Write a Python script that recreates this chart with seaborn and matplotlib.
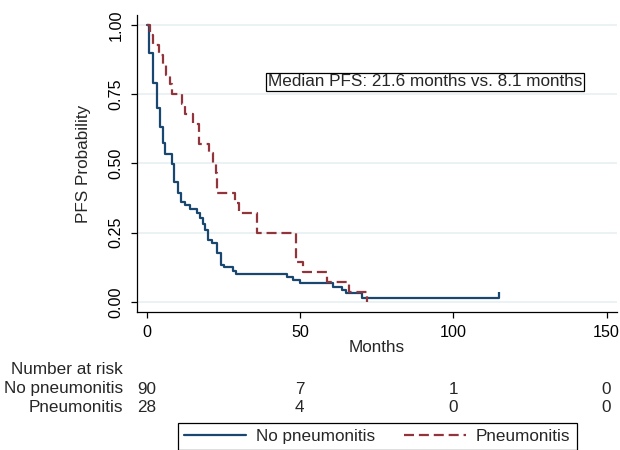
import matplotlib
matplotlib.use("Agg")
import matplotlib.pyplot as plt
import matplotlib.transforms as mtransforms
import pandas as pd
import seaborn as sns

# data (Kaplan-Meier steps: time in months, survival)
no_pn_t = [0, 0.9, 2.2, 3.3, 4.3, 5.4, 6.1, 8.2, 9.0, 10.3, 11.2, 12.5, 14.1, 16.3,
           17.4, 18.3, 19.0, 20.1, 21.5, 23.1, 24.2, 25.2, 28.1, 29.2, 45.9, 47.8,
           50.0, 60.9, 63.9, 65.0, 70.1, 115.0]
no_pn_s = [1.0, 0.898, 0.789, 0.700, 0.630, 0.572, 0.534, 0.498, 0.431, 0.392, 0.361,
           0.349, 0.334, 0.319, 0.301, 0.281, 0.259, 0.223, 0.211, 0.175, 0.133, 0.124,
           0.112, 0.100, 0.090, 0.078, 0.067, 0.054, 0.042, 0.033, 0.012, 0.012]

pn_t = [0, 1.1, 2.2, 4.1, 5.5, 6.5, 7.5, 8.3, 11.5, 12.5, 15.1, 17.1, 20.3, 21.6,
        22.6, 22.9, 29.0, 30.3, 36.1, 48.9, 51.1, 58.9, 66.1, 71.8]
pn_s = [1.0, 0.964, 0.929, 0.893, 0.857, 0.821, 0.786, 0.750, 0.714, 0.679, 0.643,
        0.571, 0.536, 0.500, 0.464, 0.393, 0.357, 0.321, 0.250, 0.143, 0.107, 0.071,
        0.036, 0.0]

groups = ["No pneumonitis", "Pneumonitis"]
risk_times = [0, 50, 100, 150]
risk_no_pn = [90, 7, 1, 0]
risk_pn = [28, 4, 0, 0]

navy = "#1a476f"
maroon = "#90353b"
grid_col = "#eaf2f3"
fs = 12.3

sns.set_theme(style="white")
plt.rcParams["font.family"] = ["Liberation Sans", "DejaVu Sans"]

fig = plt.figure(figsize=(6.2, 4.5), dpi=100)
ax = fig.add_axes([137 / 620, 1 - 312 / 450, 480 / 620, 297 / 450])

df_no = pd.DataFrame({"t": no_pn_t, "s": no_pn_s})
df_pn = pd.DataFrame({"t": pn_t, "s": pn_s})

sns.lineplot(data=df_no, x="t", y="s", drawstyle="steps-post", estimator=None, sort=False,
             color=navy, lw=1.6, ax=ax)
sns.lineplot(data=df_pn, x="t", y="s", drawstyle="steps-post", estimator=None, sort=False,
             color=maroon, lw=1.6, linestyle=(0, (4.5, 2.2)), ax=ax)
# censor tick at end of follow-up
ax.plot(no_pn_t[-1], no_pn_s[-1], marker=2, markersize=4, color=navy, mew=1.6)

ax.set_xlim(-3.1, 153.4)
ax.set_ylim(-0.037, 1.036)
ax.set_xticks([0, 50, 100, 150])
ax.set_yticks([0, 0.25, 0.5, 0.75, 1.0])
ax.set_yticklabels(["0.00", "0.25", "0.50", "0.75", "1.00"])
ax.yaxis.grid(True, color=grid_col, lw=1.4)
ax.set_axisbelow(True)
for side in ["top", "right"]:
    ax.spines[side].set_visible(False)
for side in ["left", "bottom"]:
    ax.spines[side].set_color("black")
    ax.spines[side].set_linewidth(0.9)
ax.tick_params(axis="both", direction="out", length=4.5, width=0.9, color="black",
               labelsize=11.6, labelcolor="black", pad=5, left=True, bottom=True)
ax.tick_params(axis="y", labelrotation=90)
for lab in ax.get_yticklabels():
    lab.set_va("center")

ax.set_xlabel("Months", fontsize=fs, va="center")
ax.xaxis.set_label_coords(0.5, -0.121)
ax.set_ylabel("PFS Probability", fontsize=fs, va="center")
ax.yaxis.set_label_coords(-0.112, 0.5)

ax.text(39.6, 0.794, "Median PFS: 21.6 months vs. 8.1 months", fontsize=fs,
        ha="left", va="center",
        bbox=dict(boxstyle="square,pad=0.1", fc="white", ec="black", lw=0.9))

# number at risk table
trans = mtransforms.blended_transform_factory(ax.transData, fig.transFigure)
row_y = [1 - 389 / 450, 1 - 407 / 450]
fig.text(123 / 620, 1 - 370 / 450, "Number at risk", fontsize=fs, ha="right", va="center")
for name, counts, yy in zip(groups, [risk_no_pn, risk_pn], row_y):
    fig.text(123 / 620, yy, name, fontsize=fs, ha="right", va="center")
    for t, n in zip(risk_times, counts):
        ax.text(t, yy, str(n), transform=trans, fontsize=fs, ha="center", va="center",
                clip_on=False)

handles = [plt.Line2D([], [], color=navy, lw=1.6),
           plt.Line2D([], [], color=maroon, lw=1.6, linestyle=(0, (4.5, 2.2)))]
leg = fig.legend(handles, groups, loc="upper center", bbox_to_anchor=(377.5 / 620, 1 - 422.7 / 450),
                 ncol=2, fontsize=fs, frameon=True, fancybox=False, borderaxespad=0,
                 handlelength=3.6, handletextpad=0.6, columnspacing=1.7, borderpad=0.35)
leg.get_frame().set_edgecolor("black")
leg.get_frame().set_linewidth(0.9)
leg.get_frame().set_alpha(1)

fig.savefig("out.png", dpi=100)
